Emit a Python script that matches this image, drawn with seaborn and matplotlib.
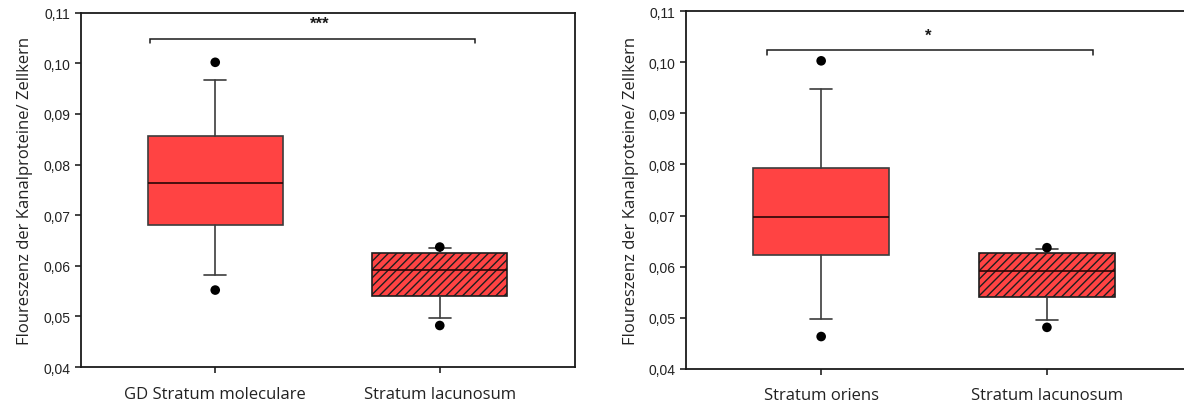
import matplotlib
matplotlib.use("Agg")
import matplotlib.pyplot as plt
from matplotlib.ticker import FuncFormatter, FixedLocator
import pandas as pd
import seaborn as sns

# Group labels for the two panels
left_groups = ["GD Stratum moleculare", "Stratum lacunosum"]
right_groups = ["Stratum oriens", "Stratum lacunosum"]

# Box statistics per group: 10th/25th/50th/75th/90th percentiles
left_p10 = [0.0581, 0.0497]
left_q1 = [0.0681, 0.0541]
left_median = [0.0764, 0.0592]
left_q3 = [0.0857, 0.0626]
left_p90 = [0.0967, 0.0636]
# 5th and 95th percentiles drawn as dots
left_p05 = [0.0552, 0.0482]
left_p95 = [0.1002, 0.0637]

right_p10 = [0.0497, 0.0496]
right_q1 = [0.0622, 0.0541]
right_median = [0.0698, 0.0591]
right_q3 = [0.0794, 0.0626]
right_p90 = [0.0948, 0.0635]
right_p05 = [0.0463, 0.0481]
right_p95 = [0.1003, 0.0637]

# Significance markers
left_sig = "***"
right_sig = "*"

y_ticks = [0.04, 0.05, 0.06, 0.07, 0.08, 0.09, 0.10, 0.11]
y_label = "Floureszenz der Kanalproteine/ Zellkern"

sns.set_style("ticks")
plt.rcParams["font.family"] = ["Liberation Sans", "DejaVu Sans"]
plt.rcParams["hatch.linewidth"] = 1.0

RED = "#ff4343"
EDGE = "#3c3c3c"


def draw_panel(ax, groups, p10, q1, med, q3, p90, p05, p95,
               sig, bracket_x, bracket_y, sig_x, sig_y):
    stats = []
    for i in range(len(groups)):
        stats.append(dict(med=med[i], q1=q1[i], q3=q3[i],
                          whislo=p10[i], whishi=p90[i], fliers=[]))
    positions = list(range(len(groups)))
    bp = ax.bxp(stats, positions=positions, widths=0.6, patch_artist=True,
                showfliers=False, capwidths=0.1,
                boxprops=dict(facecolor=RED, edgecolor=EDGE, linewidth=1.2),
                medianprops=dict(color="#2a0505", linewidth=1.2),
                whiskerprops=dict(color=EDGE, linewidth=1.2),
                capprops=dict(color=EDGE, linewidth=1.2))
    bp["boxes"][1].set_hatch("////")
    bp["boxes"][1].set_edgecolor("#1e1e1e")

    dots = pd.DataFrame({
        "pos": positions + positions,
        "val": list(p05) + list(p95),
    })
    sns.scatterplot(data=dots, x="pos", y="val", ax=ax, color="black",
                    s=48, edgecolor="none", legend=False, zorder=4)

    ax.set_xlim(-0.6, 1.6)
    ax.set_ylim(0.04, 0.11)
    ax.yaxis.set_major_locator(FixedLocator(y_ticks))
    ax.yaxis.set_major_formatter(
        FuncFormatter(lambda v, _: f"{v:.2f}".replace(".", ",")))
    ax.set_xticks(positions)
    ax.set_xticklabels(groups, family="Open Sans", fontsize=12)
    ax.tick_params(axis="y", labelsize=10, length=4.5, width=1.2,
                   pad=3, colors="#222222")
    ax.tick_params(axis="x", length=4.5, width=1.2, pad=9, colors="#222222")
    ax.set_xlabel("")
    ax.set_ylabel(y_label, family="Open Sans", fontsize=12,
                  color="#222222", labelpad=7)
    for s in ax.spines.values():
        s.set_visible(True)
        s.set_color("#1a1a1a")
        s.set_linewidth(1.3)

    # significance bracket
    x0, x1 = bracket_x
    yb, yt = bracket_y
    ax.plot([x0, x0, x1, x1], [yt, yb, yb, yt], color="#1a1a1a",
            linewidth=1.1, solid_joinstyle="miter")
    ax.text(sig_x, sig_y, sig, ha="center", va="center",
            fontsize=12, fontweight="bold", color="#1a1a1a")


fig = plt.figure(figsize=(11.84, 4.10), dpi=100)
ax_l = fig.add_axes([80.5 / 1184, 1 - 368 / 410, 494 / 1184, 354.3 / 410])
ax_r = fig.add_axes([685.7 / 1184, 1 - 369.7 / 410, 501 / 1184, 357.4 / 410])

draw_panel(ax_l, left_groups, left_p10, left_q1, left_median, left_q3,
           left_p90, left_p05, left_p95, left_sig,
           (-0.29, 1.156), (0.1049, 0.1040), 0.464, 0.1080)
draw_panel(ax_r, right_groups, right_p10, right_q1, right_median, right_q3,
           right_p90, right_p05, right_p95, right_sig,
           (-0.24, 1.203), (0.1024, 0.1014), 0.476, 0.1054)
ax_r.set_xlim(-0.6, 1.6 + 4.3 / 225)

fig.savefig("out.png", dpi=100, facecolor="white")
